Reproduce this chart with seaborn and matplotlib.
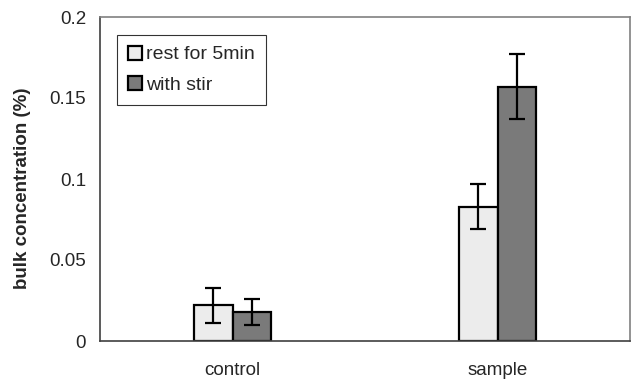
import matplotlib
matplotlib.use("Agg")
import matplotlib.pyplot as plt
import seaborn as sns
import pandas as pd

categories = ["control", "sample"]
series = ["rest for 5min", "with stir"]
rest_values = [0.022, 0.083]
stir_values = [0.018, 0.157]
rest_errors = [0.011, 0.014]
stir_errors = [0.008, 0.020]
y_ticks = [0, 0.05, 0.1, 0.15, 0.2]
y_tick_labels = ["0", "0.05", "0.1", "0.15", "0.2"]

df = pd.DataFrame({
    "group": categories * 2,
    "condition": [series[0]] * 2 + [series[1]] * 2,
    "value": rest_values + stir_values,
})

sns.set_style("white")
plt.rcParams["font.family"] = ["Liberation Sans", "DejaVu Sans"]

fig = plt.figure(figsize=(6.31, 3.81), dpi=100)
ax = fig.add_axes([100 / 631, 40 / 381, 530 / 631, 324 / 381])

palette = {series[0]: "#ececec", series[1]: "#7a7a7a"}
sns.barplot(data=df, x="group", y="value", hue="condition", order=categories,
            hue_order=series, palette=palette, width=0.29, gap=0,
            edgecolor="black", linewidth=1.6, ax=ax, errorbar=None, saturation=1)

# error bars placed at each bar's centre
errs = {series[0]: rest_errors, series[1]: stir_errors}
vals = {series[0]: rest_values, series[1]: stir_values}
for container, name in zip(ax.containers, series):
    xs = [p.get_x() + p.get_width() / 2 for p in container.patches]
    ax.errorbar(xs, vals[name], yerr=errs[name], fmt="none", ecolor="black",
                elinewidth=1.6, capsize=5.5, capthick=1.6, zorder=5)

ax.set_xlim(-0.5, 1.5)
ax.set_ylim(0, 0.2)
ax.set_yticks(y_ticks)
ax.set_yticklabels(y_tick_labels, fontsize=13.5)
ax.set_ylabel("bulk concentration (%)", fontsize=13.5, fontweight="bold")
ax.yaxis.set_label_coords(-0.13, 0.47)
ax.set_xlabel("")

# Excel-style x ticks: marks between categories, labels at centres
ax.set_xticks([-0.5, 0.5, 1.5])
ax.set_xticklabels([])
ax.set_xticks([0, 1], minor=True)
ax.set_xticklabels(categories, minor=True, fontsize=13.5)
ax.tick_params(axis="x", which="major", direction="out", length=5, width=1, color="#404040")
ax.tick_params(axis="x", which="minor", length=0, pad=15)
ax.tick_params(axis="y", direction="out", length=5, width=1, color="#404040", pad=5)

for side in ["left", "bottom"]:
    ax.spines[side].set_color("#404040")
    ax.spines[side].set_linewidth(1.2)
for side in ["top", "right"]:
    ax.spines[side].set_visible(True)
    ax.spines[side].set_color("#808080")
    ax.spines[side].set_linewidth(1.2)

leg = ax.legend(loc="upper left", bbox_to_anchor=(0.032, 0.945), fontsize=14,
                frameon=True, fancybox=False, handlelength=0.75, handleheight=0.75,
                handletextpad=0.2, labelspacing=0.65, borderpad=0.55, borderaxespad=0)
leg.get_frame().set_edgecolor("black")
leg.get_frame().set_linewidth(0.8)

fig.savefig("out.png", dpi=100)
